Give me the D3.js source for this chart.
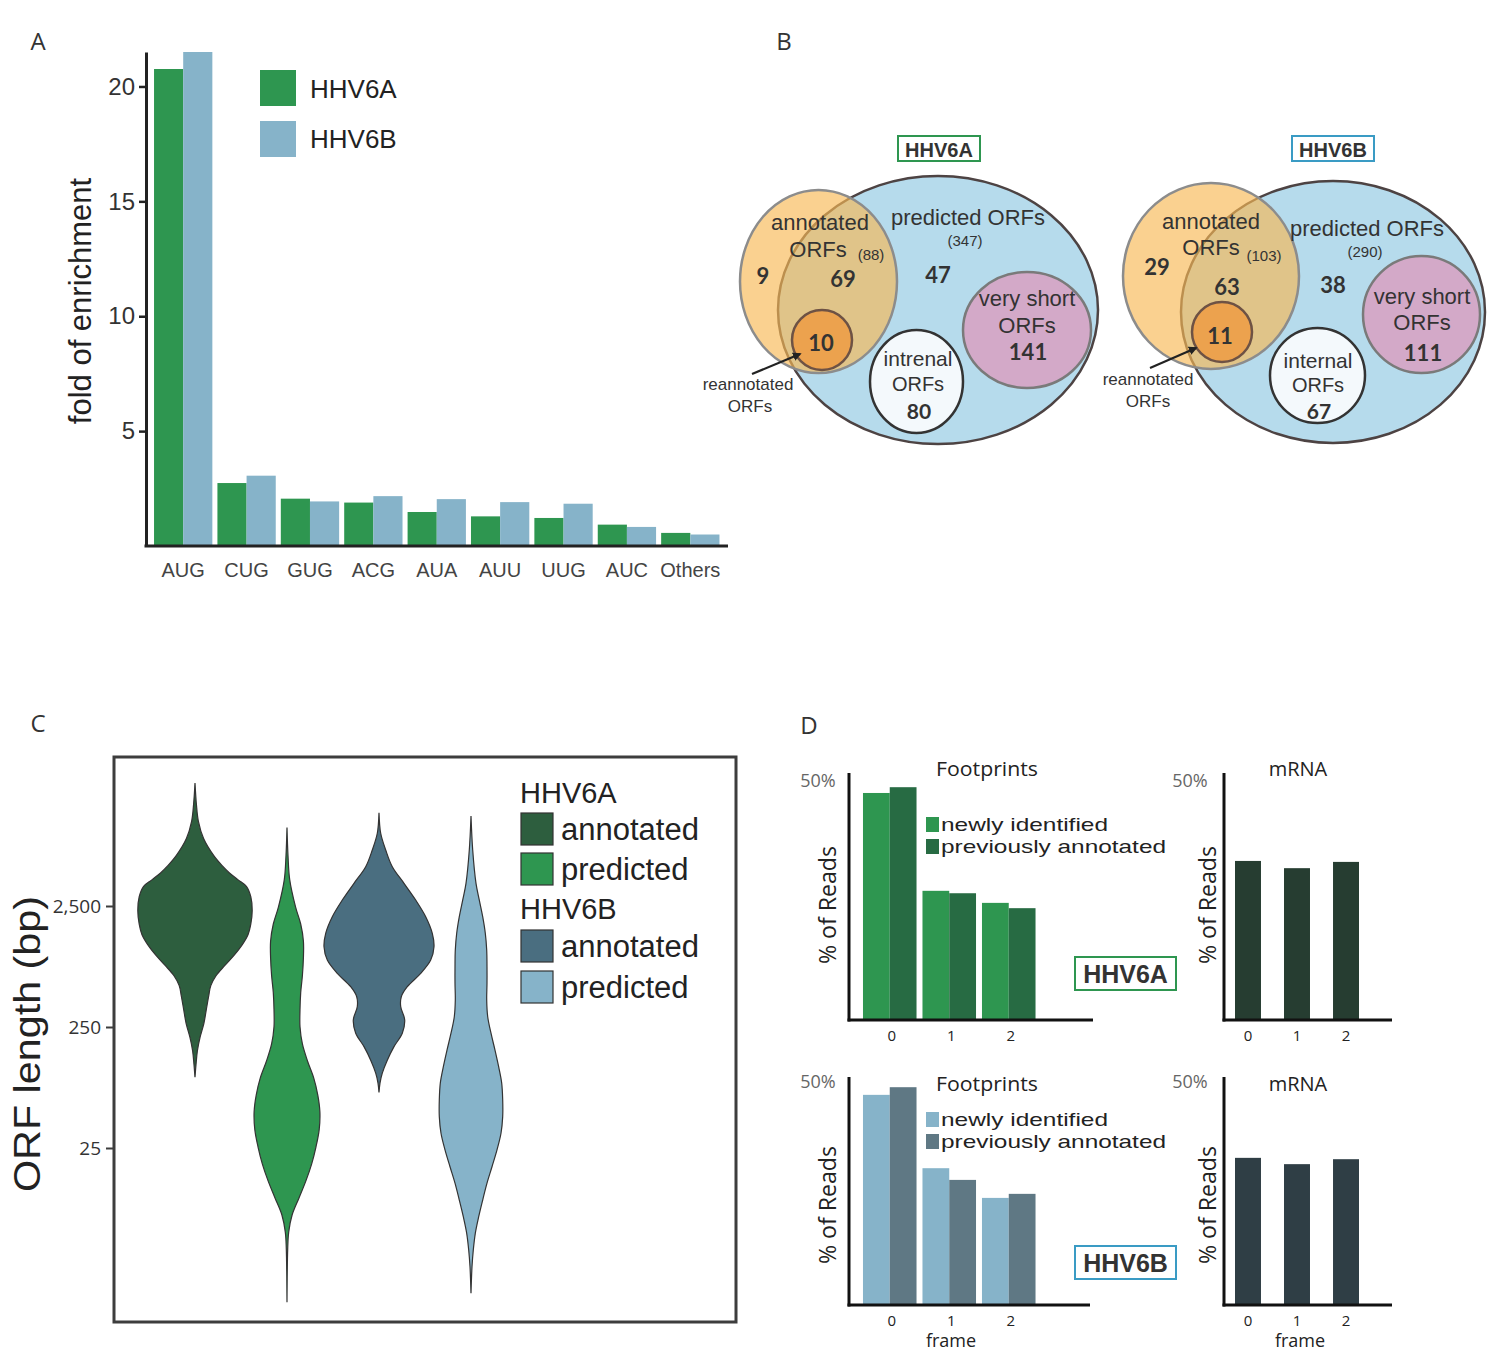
<!DOCTYPE html>
<html><head><meta charset="utf-8">
<script src="https://cdn.jsdelivr.net/npm/d3@7"></script>
<style>body{margin:0;background:#fff} svg{display:block}</style>
</head><body><svg id="fig" width="1500" height="1369"></svg>
<script>
// ================= DATA =================
// Panel A
const codons = ["AUG","CUG","GUG","ACG","AUA","AUU","UUG","AUC","Others"];
const strains = ["HHV6A","HHV6B"];
const enrichA = [20.76, 2.74, 2.06, 1.89, 1.48, 1.29, 1.22, 0.93, 0.57];
const enrichB = [21.5, 3.06, 1.94, 2.17, 2.04, 1.91, 1.84, 0.83, 0.50];
const enrichTicks = [5, 10, 15, 20];

// Panel B (Venn counts)
const vennTitles = ["HHV6A", "HHV6B"];
const annotatedTotals = [88, 103];
const predictedTotals = [347, 290];
const annotatedOnly = [9, 29];
const sharedCounts = [69, 63];
const reannotatedCounts = [10, 11];
const predictedOnly = [47, 38];
const internalCounts = [80, 67];
const veryShortCounts = [141, 111];
const internalLabels = ["intrenal", "internal"];

// Panel C (violin profiles: [ORF length bp, density])
const violinGroups = ["HHV6A annotated","HHV6A predicted","HHV6B annotated","HHV6B predicted"];
const lengthTicks = [25, 250, 2500];
const violinAnnotA = [[25970,0],[17350,0.014],[12510,0.034],[9030,0.086],[6520,0.188],[5360,0.274],[4710,0.342],[4130,0.428],[3630,0.514],[2980,0.558],[2300,0.572],[1770,0.558],[1456,0.531],[1199,0.473],[986,0.394],[810,0.301],[666,0.212],[549,0.158],[451,0.137],[348,0.113],[268,0.089],[206,0.051],[159,0.024],[122,0.010],[96,0]];
const violinPredA = [[11140,0],[6520,0.01],[4130,0.027],[2450,0.086],[1775,0.137],[1284,0.164],[929,0.164],[666,0.154],[481,0.137],[347,0.13],[251,0.13],[181,0.154],[131,0.205],[95,0.267],[68.5,0.308],[49.6,0.329],[35.5,0.322],[25.6,0.29],[18.5,0.247],[13.3,0.188],[9.66,0.12],[6.98,0.051],[5.05,0.017],[3.66,0.007],[1.33,0]];
const violinAnnotB = [[14760,0],[9980,0.017],[7260,0.067],[5280,0.133],[3850,0.25],[2800,0.367],[2040,0.467],[1487,0.533],[1152,0.55],[894,0.517],[694,0.417],[538,0.283],[445,0.223],[368,0.217],[286,0.257],[222,0.233],[172,0.15],[133,0.083],[104,0.033],[86,0.01],[72,0]];
const violinPredB = [[13860,0],[7260,0.017],[3850,0.05],[2800,0.083],[2040,0.117],[1487,0.143],[1082,0.157],[787,0.16],[574,0.16],[418,0.157],[304,0.167],[222,0.2],[161,0.24],[117,0.277],[86,0.307],[62.3,0.317],[45.4,0.317],[33.1,0.30],[24.1,0.26],[17.5,0.21],[12.8,0.16],[9.29,0.117],[6.76,0.077],[4.93,0.043],[3.59,0.023],[2.61,0.01],[1.58,0]];

// Panel D (% of reads per frame)
const frames = ["0","1","2"];
const fpNewA = [47.1, 26.8, 24.3];
const fpPrevA = [48.3, 26.3, 23.2];
const mrnaA = [33.0, 31.5, 32.8];
const fpNewB = [46.7, 30.4, 23.8];
const fpPrevB = [48.4, 27.8, 24.7];
const mrnaB = [32.7, 31.3, 32.4];
const readSeries = ["newly identified", "previously annotated"];

// ================= DRAW =================
const svg = d3.select("#fig");
const SANS = "'Liberation Sans', Arial, sans-serif";
const OPEN = "'Open Sans', sans-serif";
const BOLD = "Lato, 'Open Sans', sans-serif";

function txt(x, y, s, size, opts = {}) {
  const t = svg.append("text").attr("x", x).attr("y", y).text(s)
    .attr("font-family", opts.font || SANS).attr("font-size", size)
    .attr("fill", opts.fill || "#333")
    .attr("text-anchor", opts.anchor || "middle")
    .attr("dominant-baseline", "central");
  if (opts.weight) t.attr("font-weight", opts.weight);
  if (opts.len) t.attr("textLength", opts.len).attr("lengthAdjust", "spacingAndGlyphs");
  if (opts.rotate) t.attr("transform", `rotate(-90,${x},${y})`);
  return t;
}

// panel letters
txt(38, 40, "A", 24, {font: OPEN});
txt(784, 40, "B", 24, {font: OPEN});
txt(38, 722, "C", 24, {font: OPEN});
txt(809, 724, "D", 24, {font: OPEN});

// ---------- Panel A ----------
const colA = ["#2e9650", "#86b3c9"];
const yA = d3.scaleLinear().domain([0, 21.5]).range([546, 52]);
const xA = d3.scaleBand().domain(codons).range([151.5, 722]).paddingInner(0.08).paddingOuter(0.04);
const xAi = d3.scaleBand().domain(strains).range([0, xA.bandwidth()]);
[enrichA, enrichB].forEach((vals, s) => {
  svg.append("g").selectAll("rect").data(codons).join("rect")
    .attr("x", c => xA(c) + xAi(strains[s]))
    .attr("width", xAi.bandwidth())
    .attr("y", (c, i) => yA(vals[i]))
    .attr("height", (c, i) => yA(0) - yA(vals[i]))
    .attr("fill", colA[s]);
});
const axA = svg.append("g").attr("transform", "translate(146,0)")
  .call(d3.axisLeft(yA).tickValues(enrichTicks).tickSize(7).tickSizeOuter(0).tickPadding(4));
axA.select(".domain").attr("stroke", "#222").attr("stroke-width", 3);
axA.selectAll(".tick line").attr("stroke", "#222").attr("stroke-width", 2.5);
axA.selectAll(".tick text").attr("font-family", SANS).attr("font-size", 24).attr("fill", "#333");
svg.append("line").attr("x1", 144.5).attr("x2", 728).attr("y1", yA(0)).attr("y2", yA(0))
  .attr("stroke", "#222").attr("stroke-width", 3);
codons.forEach(c => txt(xA(c) + xA.bandwidth() / 2, 570, c, 20, {fill: "#444"}));
txt(80, 301, "fold of enrichment", 31, {rotate: true, fill: "#222"});
strains.forEach((s, i) => {
  svg.append("rect").attr("x", 260).attr("y", 70 + i * 51).attr("width", 36).attr("height", 36).attr("fill", colA[i]);
  txt(310, 89 + i * 50, s, 26, {anchor: "start", fill: "#222"});
});

// ---------- Panel B ----------
svg.append("defs").append("marker").attr("id", "arr").attr("viewBox", "0 0 10 10")
  .attr("refX", 8).attr("refY", 5).attr("markerWidth", 4).attr("markerHeight", 4).attr("orient", "auto")
  .append("path").attr("d", "M0,0 L10,5 L0,10 z").attr("fill", "#222");

const vennLayouts = [
  {blue:[938,310,160,134], pink:[1027,330,64,58], white:[916.5,381.5,46.5,51.5], orange:[818.5,281.5,78.5,91.5], small:[822,340,30],
   box:[898,136,82,25], boxColor:"#2e9650", annot:[820,222], orfs:[818,249], annTot:[871,254], pred:[968,217], predTot:[965,240],
   aOnly:[763,275], shared:[843,278], pOnly:[938,274], vs1:[1027,298], vs2:[1027,325], vsN:[1028,351], smallN:[821,342],
   int1:[918,358], int2:[918,384], intN:[919,410], re1:[748,384], re2:[750,406], arrow:[[752,374],[800,354]]},
  {blue:[1333,312,152,131], pink:[1421.5,314.5,58.5,58.5], white:[1317.5,375.5,47.5,47.5], orange:[1211,276,88,93], small:[1222,332,30],
   box:[1292,136,82,25], boxColor:"#3a9bc4", annot:[1211,221], orfs:[1211,247], annTot:[1264,255], pred:[1367,228], predTot:[1365,251],
   aOnly:[1157,266], shared:[1227,286], pOnly:[1333,284], vs1:[1422,296], vs2:[1422,322], vsN:[1423,352], smallN:[1220,335],
   int1:[1318,360], int2:[1318,385], intN:[1319,410], re1:[1148,379], re2:[1148,401], arrow:[[1150,368],[1196,348]]}
];
function ell(p, fill, stroke, sw, op) {
  const e = svg.append("ellipse").attr("cx", p[0]).attr("cy", p[1]).attr("rx", p[2]).attr("ry", p.length > 3 ? p[3] : p[2])
    .attr("fill", fill).attr("stroke", stroke).attr("stroke-width", sw);
  if (op) e.attr("fill-opacity", op);
  return e;
}
vennLayouts.forEach((L, i) => {
  ell(L.blue, "#b6dbec", "#4d4343", 2.5);
  ell(L.pink, "#d3a9c8", "#7a7a7a", 2.5);
  ell(L.white, "#f4f9fc", "#333", 2.5);
  ell(L.orange, "#f8b955", "#8c8c8c", 2.5, 0.65);
  ell(L.small, "#eca24e", "#6e5244", 2.5);
  svg.append("rect").attr("x", L.box[0]).attr("y", L.box[1]).attr("width", L.box[2]).attr("height", L.box[3])
    .attr("fill", "#fff").attr("stroke", L.boxColor).attr("stroke-width", 2);
  txt(L.box[0] + L.box[2] / 2, L.box[1] + L.box[3] / 2 + 1, vennTitles[i], 20, {weight: "bold", fill: "#333"});
  txt(L.annot[0], L.annot[1], "annotated", 22);
  txt(L.orfs[0], L.orfs[1], "ORFs", 22);
  txt(L.annTot[0], L.annTot[1], `(${annotatedTotals[i]})`, 15);
  txt(L.pred[0], L.pred[1], "predicted ORFs", 22);
  txt(L.predTot[0], L.predTot[1], `(${predictedTotals[i]})`, 15);
  txt(L.aOnly[0], L.aOnly[1], annotatedOnly[i], 22, {font: BOLD, weight: "bold"});
  txt(L.shared[0], L.shared[1], sharedCounts[i], 22, {font: BOLD, weight: "bold"});
  txt(L.pOnly[0], L.pOnly[1], predictedOnly[i], 22, {font: BOLD, weight: "bold"});
  txt(L.vs1[0], L.vs1[1], "very short", 22);
  txt(L.vs2[0], L.vs2[1], "ORFs", 22);
  txt(L.vsN[0], L.vsN[1], veryShortCounts[i], 22, {font: BOLD, weight: "bold"});
  txt(L.smallN[0], L.smallN[1], reannotatedCounts[i], 22, {font: BOLD, weight: "bold"});
  txt(L.int1[0], L.int1[1], internalLabels[i], 21);
  txt(L.int2[0], L.int2[1], "ORFs", 20);
  txt(L.intN[0], L.intN[1], internalCounts[i], 21, {font: BOLD, weight: "bold"});
  txt(L.re1[0], L.re1[1], "reannotated", 17);
  txt(L.re2[0], L.re2[1], "ORFs", 17);
  svg.append("line").attr("x1", L.arrow[0][0]).attr("y1", L.arrow[0][1]).attr("x2", L.arrow[1][0]).attr("y2", L.arrow[1][1])
    .attr("stroke", "#222").attr("stroke-width", 2.2).attr("marker-end", "url(#arr)");
});

// ---------- Panel C ----------
const colC = ["#2d5e3e", "#2e9650", "#4a6e80", "#86b3c9"];
const yC = d3.scaleLog().domain([2.5, 25000]).range([1269, 785]);
const xC = d3.scalePoint().domain(violinGroups).range([195, 471]);
const wC = d3.scaleLinear().domain([0, 1]).range([0, 100]);
svg.append("rect").attr("x", 114).attr("y", 757).attr("width", 622).attr("height", 565)
  .attr("fill", "none").attr("stroke", "#3d3d3d").attr("stroke-width", 3);
const axC = svg.append("g").attr("transform", "translate(114,0)")
  .call(d3.axisLeft(yC).tickValues(lengthTicks).tickFormat(d3.format(",")).tickSize(8).tickSizeOuter(0).tickPadding(5));
axC.select(".domain").remove();
axC.selectAll(".tick line").attr("stroke", "#3d3d3d").attr("stroke-width", 2);
axC.selectAll(".tick text").attr("font-family", OPEN).attr("font-size", 19).attr("fill", "#333");
[violinAnnotA, violinPredA, violinAnnotB, violinPredB].forEach((v, i) => {
  const cx = xC(violinGroups[i]);
  const area = d3.area().curve(d3.curveCatmullRom.alpha(0.5))
    .y(d => yC(d[0])).x0(d => cx - wC(d[1])).x1(d => cx + wC(d[1]));
  svg.append("path").datum(v).attr("d", area).attr("fill", colC[i]).attr("stroke", "#333").attr("stroke-width", 1.2);
});
txt(27, 1044, "ORF length (bp)", 36, {rotate: true, fill: "#222", len: 296});
const legC = [["HHV6A", null], ["annotated", 0], ["predicted", 1], ["HHV6B", null], ["annotated", 2], ["predicted", 3]];
const legY = [793, 829, 869, 909, 946, 987];
legC.forEach(([lab, ci], k) => {
  if (ci === null) { txt(520, legY[k], lab, 29, {anchor: "start", fill: "#222"}); return; }
  svg.append("rect").attr("x", 521).attr("y", legY[k] - 16).attr("width", 32).attr("height", 32)
    .attr("fill", colC[ci]).attr("stroke", "#333").attr("stroke-width", 1.2);
  txt(561, legY[k], lab, 31, {anchor: "start", fill: "#222"});
});

// ---------- Panel D ----------
function footprints(cfg) {
  const y = d3.scaleLinear().domain([0, 50]).range([cfg.base, cfg.y50]);
  const x = d3.scaleBand().domain(frames).range([860, 1038.5]).paddingInner(0.1).paddingOuter(0.05);
  const xi = d3.scaleBand().domain(readSeries).range([0, x.bandwidth()]);
  [cfg.newV, cfg.prevV].forEach((vals, s) => {
    svg.append("g").selectAll("rect").data(frames).join("rect")
      .attr("x", f => x(f) + xi(readSeries[s])).attr("width", xi.bandwidth())
      .attr("y", (f, i) => y(vals[i])).attr("height", (f, i) => y(0) - y(vals[i]))
      .attr("fill", cfg.cols[s]);
  });
  svg.append("line").attr("x1", 849).attr("x2", 849).attr("y1", cfg.top).attr("y2", cfg.base + 1.5).attr("stroke", "#111").attr("stroke-width", 3);
  svg.append("line").attr("x1", 847.5).attr("x2", cfg.xEnd).attr("y1", cfg.base).attr("y2", cfg.base).attr("stroke", "#111").attr("stroke-width", 3);
  frames.forEach(f => txt(x(f) + x.bandwidth() / 2 + 2, cfg.base + 15, f, 15, {font: OPEN, fill: "#222"}));
  txt(818, y(50) + 1, "50%", 18, {font: OPEN, fill: "#666"});
  txt(987, cfg.title, "Footprints", 20, {font: OPEN, fill: "#222", len: 102});
  txt(826, cfg.mid, "% of Reads", 24, {font: OPEN, fill: "#222", rotate: true, len: 118});
  readSeries.forEach((s, k) => {
    const cy = cfg.leg - 1 + k * 22;
    svg.append("rect").attr("x", 926).attr("y", cy - 7).attr("width", 13).attr("height", 15).attr("fill", cfg.cols[k]);
    txt(941, cy, s, 19, {anchor: "start", fill: "#222", len: k ? 225 : 167});
  });
  svg.append("rect").attr("x", 1075).attr("y", cfg.box).attr("width", 101).attr("height", 33)
    .attr("fill", "#fff").attr("stroke", cfg.boxColor).attr("stroke-width", 2);
  txt(1125.5, cfg.box + 17, cfg.name, 25, {weight: "bold", fill: "#333"});
  if (cfg.frame) txt(951, 1340, "frame", 18, {font: OPEN, fill: "#222"});
}
function mrna(cfg) {
  const y = d3.scaleLinear().domain([0, 50]).range([cfg.base, cfg.y50]);
  const x = d3.scaleBand().domain(frames).range([1225.2, 1368.8]).paddingInner(0.47).paddingOuter(0.2);
  svg.append("g").selectAll("rect").data(frames).join("rect")
    .attr("x", f => x(f)).attr("width", x.bandwidth())
    .attr("y", (f, i) => y(cfg.vals[i])).attr("height", (f, i) => y(0) - y(cfg.vals[i]))
    .attr("fill", cfg.col);
  svg.append("line").attr("x1", 1224).attr("x2", 1224).attr("y1", cfg.top).attr("y2", cfg.base + 1.5).attr("stroke", "#111").attr("stroke-width", 3);
  svg.append("line").attr("x1", 1222.5).attr("x2", 1392).attr("y1", cfg.base).attr("y2", cfg.base).attr("stroke", "#111").attr("stroke-width", 3);
  frames.forEach(f => txt(x(f) + x.bandwidth() / 2, cfg.base + 15, f, 15, {font: OPEN, fill: "#222"}));
  txt(1190, y(50) + 1, "50%", 18, {font: OPEN, fill: "#666"});
  txt(1298, cfg.title, "mRNA", 20, {font: OPEN, fill: "#222"});
  txt(1206, cfg.mid, "% of Reads", 24, {font: OPEN, fill: "#222", rotate: true, len: 118});
  if (cfg.frame) txt(1300, 1340, "frame", 18, {font: OPEN, fill: "#222"});
}
footprints({base: 1020, y50: 779, top: 773, xEnd: 1093, newV: fpNewA, prevV: fpPrevA, cols: ["#2e9650", "#276b43"],
  title: 768, mid: 905, leg: 825, box: 957, boxColor: "#2e9650", name: "HHV6A", frame: false});
footprints({base: 1305, y50: 1080, top: 1077, xEnd: 1090, newV: fpNewB, prevV: fpPrevB, cols: ["#86b3c9", "#5f7884"],
  title: 1083, mid: 1205, leg: 1120, box: 1246, boxColor: "#3a9bc4", name: "HHV6B", frame: true});
mrna({base: 1020, y50: 779, top: 773, vals: mrnaA, col: "#263d31", title: 768, mid: 905, frame: false});
mrna({base: 1305, y50: 1080, top: 1077, vals: mrnaB, col: "#2f3e45", title: 1083, mid: 1205, frame: true});
</script>
</body></html>
